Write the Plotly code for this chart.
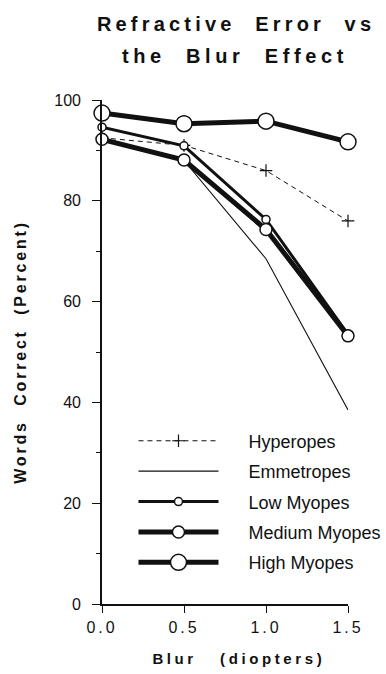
import plotly.graph_objects as go

# ---- data ----
blur = [0.0, 0.5, 1.0, 1.5]
hyperopes = [92.5, 91.0, 86.0, 76.0]
emmetropes = [92.0, 88.0, 68.5, 38.5]
low_myopes = [94.6, 90.9, 76.3, 53.5]
medium_myopes = [92.2, 88.1, 74.3, 53.2]
high_myopes = [97.4, 95.3, 95.8, 91.7]

series_names = ["Hyperopes", "Emmetropes", "Low Myopes", "Medium Myopes", "High Myopes"]
x_tickvals = [0.0, 0.5, 1.0, 1.5]
x_ticktext = ["0.0", "0.5", "1.0", "1.5"]
y_tickvals = [0, 20, 40, 60, 80, 100]

INK = "#111111"
FONT = "Liberation Sans, Arial, Helvetica, sans-serif"
PAD = "\u00a0" * 5  # gap between legend sample and label


def lg(name):
    return PAD + name


fig = go.Figure()

fig.add_trace(go.Scatter(
    x=blur, y=hyperopes, name=lg(series_names[0]), mode="lines+markers",
    line=dict(color=INK, width=1, dash="5px,4px"),
    marker=dict(symbol="cross-thin", size=9, line=dict(color=INK, width=1.2)),
    legendgroup="a", cliponaxis=False))
fig.add_trace(go.Scatter(
    x=blur, y=emmetropes, name=lg(series_names[1]), mode="lines",
    line=dict(color=INK, width=1.1),
    legendgroup="b", cliponaxis=False))
fig.add_trace(go.Scatter(
    x=blur, y=low_myopes, name=lg(series_names[2]), mode="lines+markers",
    line=dict(color=INK, width=3),
    marker=dict(symbol="circle", size=8, color="white", line=dict(color=INK, width=1.5)),
    legendgroup="c", cliponaxis=False))
fig.add_trace(go.Scatter(
    x=blur, y=medium_myopes, name=lg(series_names[3]), mode="lines+markers",
    line=dict(color=INK, width=5),
    marker=dict(symbol="circle", size=12, color="white", line=dict(color=INK, width=1.5)),
    legendgroup="d", cliponaxis=False))
fig.add_trace(go.Scatter(
    x=blur, y=high_myopes, name=lg(series_names[4]), mode="lines+markers",
    line=dict(color=INK, width=5),
    marker=dict(symbol="circle", size=16, color="white", line=dict(color=INK, width=1.5)),
    legendgroup="e", cliponaxis=False))

fig.update_layout(
    width=386, height=674,
    margin=dict(l=102, r=38, t=100, b=70, autoexpand=False),
    paper_bgcolor="white", plot_bgcolor="white",
    font=dict(family=FONT, color=INK),
    showlegend=True,
    legend=dict(
        x=0.128, y=0.36, xanchor="left", yanchor="top",
        bgcolor="rgba(0,0,0,0)", borderwidth=0,
        font=dict(family=FONT, size=18, color=INK),
        itemwidth=80, tracegroupgap=4, traceorder="grouped",
    ),
    annotations=[
        dict(text="Refractive\u00a0\u00a0Error\u00a0\u00a0vs", xref="paper", yref="paper",
             x=0.545, y=1.0, yshift=76, showarrow=False, xanchor="center", yanchor="middle",
             font=dict(family=FONT, size=20, color=INK, weight="bold")),
        dict(text="the\u00a0\u00a0Blur\u00a0\u00a0Effect", xref="paper", yref="paper",
             x=0.54, y=1.0, yshift=44, showarrow=False, xanchor="center", yanchor="middle",
             font=dict(family=FONT, size=20, color=INK, weight="bold")),
        dict(text="Blur\u00a0\u00a0\u00a0(diopters)", xref="paper", yref="paper",
             x=0.557, y=0.0, yshift=-54, showarrow=False, xanchor="center", yanchor="middle",
             font=dict(family=FONT, size=15, color=INK, weight="bold")),
    ],
)

fig.update_xaxes(
    range=[0, 1.5], tickvals=x_tickvals, ticktext=x_ticktext,
    showline=True, linecolor=INK, linewidth=1.6, mirror=False,
    ticks="outside", ticklen=7, tickwidth=1.4, tickcolor=INK,
    showgrid=False, zeroline=False,
    tickfont=dict(family=FONT, size=16, color=INK), ticklabelstandoff=1,
)
fig.update_yaxes(
    range=[0, 100], tickvals=y_tickvals,
    showline=True, linecolor=INK, linewidth=1.6, mirror=False,
    ticks="outside", ticklen=8, tickwidth=1.4, tickcolor=INK,
    minor=dict(dtick=10, tick0=0, ticks="outside", ticklen=4, tickwidth=1.2, tickcolor=INK),
    showgrid=False, zeroline=False,
    tickfont=dict(family=FONT, size=16, color=INK), ticklabelstandoff=8,
    title=dict(text="Words\u00a0\u00a0Correct\u00a0\u00a0(Percent)", standoff=24,
               font=dict(family=FONT, size=16, color=INK, weight="bold")),
)

post = """
var gd = document.querySelector('.js-plotly-plot');
if (gd) {
  var ann = gd.querySelectorAll('.annotation-text');
  var sp = ['4.2px', '4.6px', '3.6px'];
  ann.forEach(function(t, i){ t.style.letterSpacing = sp[i] || '3.6px'; });
  gd.querySelectorAll('.ytitle').forEach(function(t){ t.style.letterSpacing = '2.8px'; });
  gd.querySelectorAll('.xtick text').forEach(function(t){ t.style.letterSpacing = '3px'; });
}
"""

fig.write_html("out.html", post_script=post)
